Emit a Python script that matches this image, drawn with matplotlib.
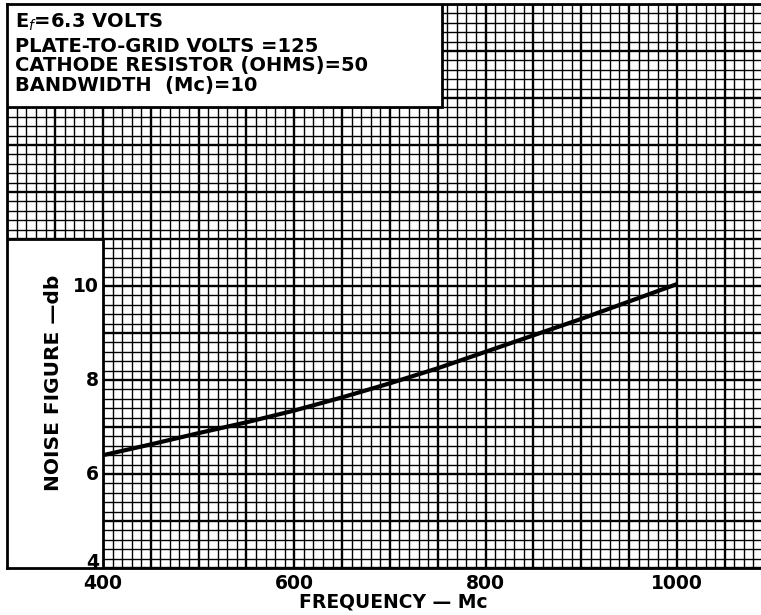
import matplotlib
matplotlib.use("Agg")
import matplotlib.pyplot as plt
from matplotlib.patches import Rectangle
import numpy as np

freq = [400, 450, 500, 550, 600, 650, 700, 750, 800, 850, 900, 950, 1000]
noise_db = [6.40, 6.63, 6.87, 7.10, 7.35, 7.63, 7.93, 8.25, 8.60, 8.95, 9.30, 9.67, 10.04]
x_tick_vals = [400, 600, 800, 1000]
y_tick_vals = [4, 6, 8, 10]
info_lines = ["E$_{f}$=6.3 VOLTS", "PLATE-TO-GRID VOLTS =125",
              "CATHODE RESISTOR (OHMS)=50", "BANDWIDTH  (Mc)=10"]

plt.rcParams['font.family'] = ['DejaVu Sans']
fig = plt.figure(figsize=(7.61, 6.15), dpi=100)
ax = fig.add_axes([0.0096, 0.0764, 0.9904, 0.9171])
xmin, xmax, ymin, ymax = 300, 1088, 4, 16
ax.set_xlim(xmin, xmax)
ax.set_ylim(ymin, ymax)

# grid
for xv in np.arange(300, 1090, 10):
    major = (xv % 50 == 0)
    ax.axvline(xv, color='black', lw=1.7 if major else 1.0, zorder=1)
for yv in np.arange(4, 16.01, 0.2):
    major = abs(yv - round(yv)) < 1e-6
    ax.axhline(yv, color='black', lw=1.7 if major else 1.0, zorder=1)

# white boxes
ax.add_patch(Rectangle((300, 13.8), 754 - 300, 16 - 13.8, facecolor='white',
                       edgecolor='black', lw=2, zorder=3))
ax.add_patch(Rectangle((300, 4), 100, 7, facecolor='white',
                       edgecolor='black', lw=2, zorder=3))

ax.plot(freq, noise_db, color='black', lw=3.0, zorder=4, solid_capstyle='butt')

ax.spines['right'].set_visible(False)
for s in ['left', 'top', 'bottom']:
    ax.spines[s].set_linewidth(2)
ax.set_xticks(x_tick_vals)
ax.set_xticklabels([str(v) for v in x_tick_vals], fontsize=13.5, fontweight='bold')
ax.tick_params(axis='x', length=0, pad=4)
ax.set_yticks([])

for v in y_tick_vals:
    yy = v + 0.12 if v == 4 else v
    ax.text(396, yy, str(v), ha='right', va='center', fontsize=13.5,
            fontweight='bold', zorder=5)

ax.text(348, 7.95, "NOISE FIGURE \u2014db", rotation=90, ha='center', va='center',
        fontsize=14.5, fontweight='bold', zorder=5)
fig.text(393 / 761, 1 - 602 / 615, "FREQUENCY \u2014 Mc", ha='center', va='center',
         fontsize=13.5, fontweight='bold')

ys = [22, 46, 66, 86]
for t, yp in zip(info_lines, ys):
    fig.text(15 / 761, 1 - yp / 615, t, ha='left', va='center', fontsize=14,
             fontweight='semibold', zorder=6)

fig.savefig("out.png", dpi=100)
